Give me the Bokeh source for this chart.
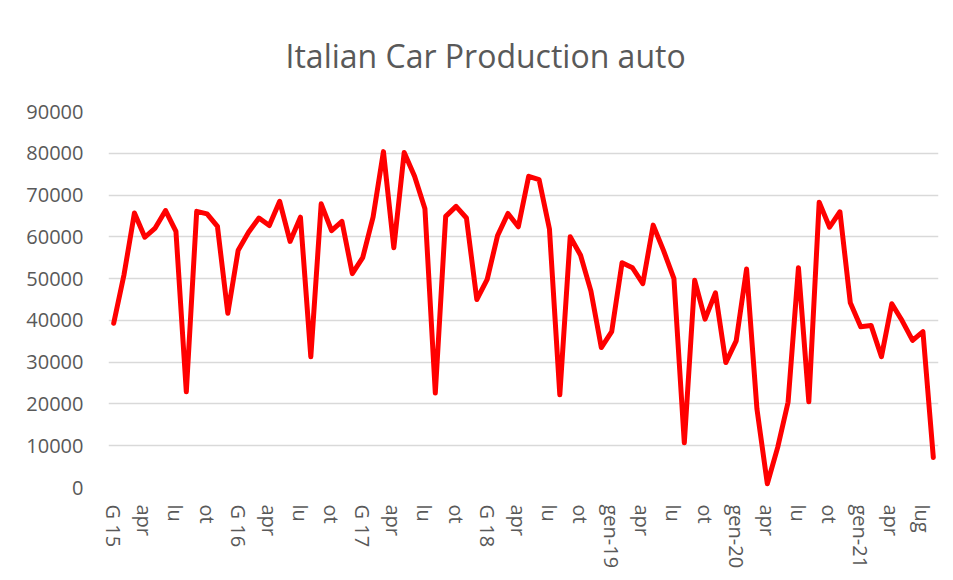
from bokeh.plotting import figure
from bokeh.models import Range1d, FixedTicker, NumeralTickFormatter
from bokeh.embed import file_html
from bokeh.resources import INLINE

# Monthly Italian car production, Jan 2015 - Aug 2021
y2015 = [39300, 51000, 65700, 59900, 62100, 66300, 61300, 22900, 66100, 65500, 62500, 41700]
y2016 = [56800, 61100, 64500, 62700, 68500, 58900, 64700, 31300, 67900, 61500, 63700, 51200]
y2017 = [55000, 64700, 80400, 57400, 80200, 74500, 66700, 22600, 64900, 67300, 64500, 45000]
y2018 = [49800, 60300, 65600, 62400, 74500, 73700, 61900, 22200, 60000, 55600, 47000, 33500]
y2019 = [37300, 53800, 52600, 48800, 62800, 56700, 50000, 10700, 49600, 40300, 46600, 29900]
y2020 = [35100, 52300, 18800, 900, 9600, 20400, 52600, 20500, 68300, 62300, 66000, 44200]
y2021 = [38500, 38800, 31300, 44000, 39900, 35200, 37300, 7200]

tick_labels = ["G 15", "apr", "lu", "ot", "G 16", "apr", "lu", "ot", "G 17", "apr", "lu", "ot",
               "G 18", "apr", "lu", "ot", "gen-19", "apr", "lu", "ot", "gen-20", "apr", "lu", "ot",
               "gen-21", "apr", "lug"]
y_ticks = [0, 10000, 20000, 30000, 40000, 50000, 60000, 70000, 80000, 90000]

values = y2015 + y2016 + y2017 + y2018 + y2019 + y2020 + y2021
xs = list(range(len(values)))
tick_pos = list(range(0, 3 * len(tick_labels), 3))

FONT = "Open Sans"
GREY = "#595959"

p = figure(width=945, height=572, output_backend="svg", toolbar_location=None,
           x_range=Range1d(-0.5, len(values) - 0.5), y_range=Range1d(0, 90000),
           min_border_left=108, min_border_right=7, min_border_top=110, min_border_bottom=85,
           title="Italian Car Production auto")

p.title.align = "left"
p.title.offset = 177
p.title.vertical_align = "top"
p.title.standoff = 66
p.title.text_font = FONT
p.title.text_font_size = "32px"
p.title.text_font_style = "normal"
p.title.text_color = GREY

p.line(xs, values, line_color="#ff0000", line_width=5, line_join="round", line_cap="round")

p.outline_line_color = None
p.background_fill_color = "white"
p.border_fill_color = "white"

p.xgrid.grid_line_color = None
p.ygrid.grid_line_color = "#d9d9d9"
p.ygrid.grid_line_width = 1.5

p.yaxis.ticker = FixedTicker(ticks=y_ticks)
p.yaxis.formatter = NumeralTickFormatter(format="0")
p.yaxis.axis_line_color = None
p.yaxis.major_tick_line_color = None
p.yaxis.minor_tick_line_color = None
p.yaxis.major_label_standoff = 19
p.yaxis.major_label_text_font = FONT
p.yaxis.major_label_text_font_size = "20px"
p.yaxis.major_label_text_color = GREY

p.xaxis.ticker = FixedTicker(ticks=tick_pos)
p.xaxis.major_label_overrides = {t: l for t, l in zip(tick_pos, tick_labels)}
p.xaxis.major_label_orientation = "vertical"
p.xaxis.axis_line_color = None
p.xaxis.major_tick_line_color = None
p.xaxis.minor_tick_line_color = None
p.xaxis.major_label_standoff = 11
p.xaxis.major_label_text_font = FONT
p.xaxis.major_label_text_font_size = "20px"
p.xaxis.major_label_text_color = GREY

open("out.html", "w").write(file_html(p, INLINE))
